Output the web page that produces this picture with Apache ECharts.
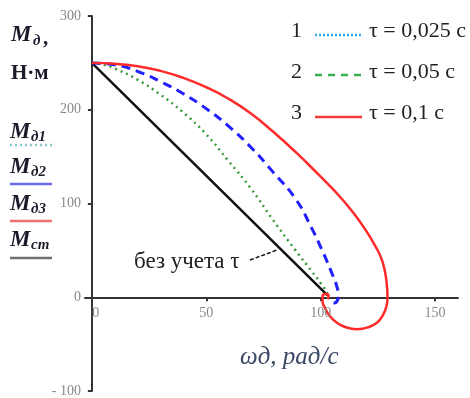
<!DOCTYPE html>
<html><head><meta charset="utf-8">
<script src="https://cdn.jsdelivr.net/npm/echarts@6/dist/echarts.min.js"></script>
<style>html,body{margin:0;padding:0;background:#fff}#c{width:470px;height:398px}</style>
</head><body><div id="c"></div>
<script>
// Data
const xTicks = [0, 50, 100, 150];
const yTicks = [-100, 0, 100, 200, 300];

const omegaRed = [0,10,20,30,40,50,59.5,69.5,79,89,99,107,114,119,124,127,128.7,129.2,128.7,127.2,124.7,120.8,115.8,111,107,104,102,100.8,100.8,102,103.5,103];
const mRed     = [250,249,246.5,241.5,234,224,212,196,177,155,131,111,91,74,54,38,18,0,-10,-19,-27,-32,-34,-32,-27,-20,-12,-4,1,3.5,1.5,-2];

const omegaBlue = [0,10,20,30,40,49.5,59.5,69.5,79,89,96,101,105,107,107.7,107.2,106,104];
const mBlue     = [250,248,241,230,217,202,183,160,134,105,74,48,25,12,2,-4,-6,-4];

const omegaGreen = [0,5,10,20,30,39.5,49.5,59.5,69.5,79,89,96,100,102.5,103.5];
const mGreen     = [250,248,244,232,216,198,175,146,116,83,50,28,15,6,0];

const omegaBlack = [0,103];
const mBlack     = [250,2];

const legendLabels = ['τ = 0,025 c', 'τ = 0,05 c', 'τ = 0,1 c'];

function pairs(xs, ys){ return xs.map((x,i)=>[x, ys[i]]); }

const serif = 'Liberation Serif';
const chart = echarts.init(document.getElementById('c'), null, {renderer:'canvas'});

const graphics = [];
function txt(x, y, s, o){
  graphics.push({type:'text', x:x, y:y, z:10, style:Object.assign({text:s, fontFamily:serif, fill:'#111', textVerticalAlign:'middle'}, o||{})});
}
function ln(x1,y1,x2,y2,stroke,w,dash){
  graphics.push({type:'line', z:10, shape:{x1:x1,y1:y1,x2:x2,y2:y2}, style:{stroke:stroke, lineWidth:w, lineDash:dash||null}});
}
// left axis title
txt(11, 35, 'M', {fontSize:23, fontStyle:'italic', fontWeight:'bold', fill:'#1b1b2b'});
txt(33, 41, 'д', {fontSize:15, fontStyle:'italic', fontWeight:'bold', fill:'#1b1b2b'});
txt(43, 39, ',', {fontSize:21, fontWeight:'bold', fill:'#1b1b2b'});
txt(11, 74, 'Н·м', {fontSize:21, fontWeight:'bold', fill:'#1b1b2b'});
// left series labels
const leftRows = [
  {sub:'д1', y:132, ly:145, col:'#88c8c8', dash:[2,3]},
  {sub:'д2', y:167, ly:184, col:'#6a6af0', dash:null},
  {sub:'д3', y:204, ly:221, col:'#f07070', dash:null},
  {sub:'ст', y:240, ly:258, col:'#707070', dash:null}
];
leftRows.forEach(r=>{
  txt(10, r.y, 'M', {fontSize:23, fontStyle:'italic', fontWeight:'bold', fill:'#1b1b2b'});
  txt(31, r.y+5, r.sub, {fontSize:15, fontStyle:'italic', fontWeight:'bold', fill:'#1b1b2b'});
  ln(10, r.ly, 52, r.ly, r.col, 2.5, r.dash);
});
// legend top right
const legRows = [
  {n:'1', y:31, ly:35, col:'#33aaee', dash:[2,2]},
  {n:'2', y:72, ly:75, col:'#3caf50', dash:[7,6]},
  {n:'3', y:113, ly:117, col:'#f03a3a', dash:null}
];
legRows.forEach((r,i)=>{
  txt(291, r.y, r.n, {fontSize:22, fill:'#222'});
  ln(315, r.ly, 362, r.ly, r.col, 2.5, r.dash);
  txt(369, r.y, legendLabels[i], {fontSize:22, fill:'#222'});
});
// annotation
txt(134, 262, 'без учета τ', {fontSize:23, fill:'#222'});
ln(250, 260, 277, 250, '#111', 1.5, [4,2]);
// x axis title
txt(240, 357, 'ωд, рад/с', {fontSize:25, fontStyle:'italic', fill:'#3a4866'});

const option = {
  animation:false,
  backgroundColor:'#fff',
  grid:{left:85, right:12, top:16, bottom:7, containLabel:false, outerBoundsMode:'none'},
  xAxis:{type:'value', min:-3, max:160,
    axisLine:{onZero:true, lineStyle:{color:'#333', width:2}},
    axisTick:{show:true, customValues:xTicks, length:4, inside:false, lineStyle:{color:'#333', width:2}},
    axisLabel:{show:false},
    splitLine:{show:false}},
  yAxis:{type:'value', min:-100, max:300, interval:100,
    axisLine:{show:true, onZero:true, lineStyle:{color:'#333', width:2}},
    axisTick:{show:true, length:4, lineStyle:{color:'#333', width:2}},
    axisLabel:{color:'#888', fontFamily:serif, fontSize:14, margin:4,
      formatter:v=> v<0 ? '- ' + Math.abs(v) : String(v)},
    splitLine:{show:false}},
  series:[
    {type:'line', data:pairs(omegaBlack, mBlack), showSymbol:false, lineStyle:{color:'#111', width:2.5}, z:3},
    {type:'line', data:pairs(omegaGreen, mGreen), showSymbol:false, smooth:0.5, lineStyle:{color:'#3a9a3a', width:2.5, type:[2,4]}, z:4},
    {type:'line', data:pairs(omegaBlue, mBlue), showSymbol:false, smooth:0.5, lineStyle:{color:'#1f1fff', width:3, type:[9,6]}, z:5},
    {type:'line', data:pairs(omegaRed, mRed), showSymbol:false, smooth:0.5, lineStyle:{color:'#ff2a2a', width:2.5}, z:6}
  ],
  graphic:graphics
};
chart.setOption(option);
// x tick labels placed via the chart's own scale, just under the zero line
xTicks.forEach(v=>{
  const p = chart.convertToPixel({gridIndex:0}, [v, 0]);
  graphics.push({type:'text', x:p[0]+(v===0?4:0), y:p[1]+16, z:10, style:{text:String(v), fontFamily:serif, fontSize:14, fill:'#888', textAlign:'center', textVerticalAlign:'middle'}});
});
chart.setOption({graphic:graphics});
</script></body></html>
